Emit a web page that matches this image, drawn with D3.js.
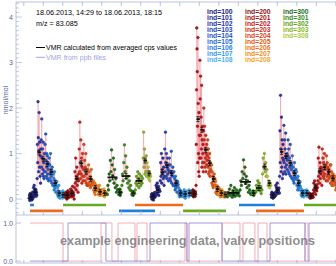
<!DOCTYPE html>
<html>
<head>
<meta charset="utf-8">
<script src="https://cdn.jsdelivr.net/npm/d3@7"></script>
<style>
body { margin: 0; background: #fff; }
svg { display: block; font-family: "Liberation Sans", Arial, sans-serif; }
</style>
</head>
<body>
<div id="chart"></div>
<script>
// time in minutes after 14:24
var segStart = [10.0, 37.7, 70.0, 103.8, 135.4, 162.3, 196.2, 225.4];
var segEnd   = [37.7, 70.0, 103.8, 135.4, 162.3, 196.2, 225.4, 255.4];

var blueInd  = [100, 101, 102, 103, 104, 105, 106, 107, 108];
var redInd   = [200, 201, 202, 203, 204, 205, 206, 207, 208];
var green1Ind = [300, 300, 301, 301, 302, 303, 308];
var green2Ind = [300, 300, 301, 302, 303, 308];
var green1Span = [11, 3, 10, 4, 8, 4, 4];
var green2Span = [13, 12, 4, 7, 5, 4];

var blue1 = [
  [0.02, 0.08, -0.03, 0.12, 0.05, 0.0, 0.1, 0.04, -0.02, 0.06, 0.15, 0.01],
  [0.1, 0.25, 0.05, 0.3, 0.18, 0.08, 0.22, 0.12, 0.2, 0.06, 0.15, 0.09],
  [0.45, 1.2, 0.8, 2.14, 1.35, 0.6, 1.05, 1.9, 0.7, 1.25, 0.5, 0.95, 0.35, 1.1],
  [1.3, 0.7, 1.76, 0.9, 0.55, 1.1, 0.65, 1.25, 0.5, 0.8, 0.45, 1.0, 0.6, 0.85],
  [1.2, 0.6, 1.43, 0.85, 0.5, 1.0, 0.7, 0.45, 0.95, 0.55, 0.8, 0.65, 0.4, 0.75],
  [0.9, 0.45, 0.75, 0.55, 1.0, 0.4, 0.65, 0.5, 0.35, 0.7, 0.6, 0.3],
  [0.55, 0.3, 0.45, 0.2, 0.6, 0.25, 0.35, 0.4, 0.15, 0.3, 0.28, 0.38],
  [0.25, 0.1, 0.18, 0.05, 0.12, 0.3, 0.08, 0.15, 0.02, 0.1, 0.14, 0.06],
  [0.12, 0.05, 0.15, 0.08, 0.02, 0.18, 0.1, 0.06, 0.13, 0.09, 0.04, 0.11]
];
var red1 = [
  [0.1, 0.04, 0.15, 0.08, 0.0, 0.12, 0.06, 0.18, 0.09, 0.03, 0.11, 0.07],
  [0.15, 0.08, 0.22, 0.1, 0.05, 0.18, 0.12, 0.28, 0.06, 0.14, 0.09, 0.0],
  [0.25, 0.6, 0.35, 0.9, 0.2, 0.5, 0.7, 0.3, 0.45, 0.15, 0.55, 0.4],
  [1.1, 0.6, 1.69, 0.8, 0.45, 1.3, 0.55, 0.9, 0.35, 0.7, 1.0, 0.5, 0.4, 0.65],
  [1.2, 0.5, 0.85, 0.4, 0.7, 1.0, 0.35, 0.55, 0.3, 0.65, 0.45, 0.3],
  [0.75, 0.35, 0.6, 0.3, 0.5, 0.25, 0.45, 0.65, 0.3, 0.4, 0.35, 0.38],
  [0.4, 0.2, 0.3, 0.15, 0.35, 0.1, 0.25, 0.2, 0.3, 0.18, 0.22, 0.23],
  [0.25, 0.1, 0.2, 0.12, 0.3, 0.08, 0.15, 0.18, 0.1, 0.14, 0.2, 0.1],
  [0.2, 0.08, 0.15, 0.1, 0.22, 0.05, 0.12, 0.16, 0.1, 0.14, 0.12, 0.12]
];
var green1 = [
  [0.1, 0.3, 0.2, 0.55, 0.4, 0.85, 0.6, 1.08, 0.75, 0.5, 0.9, 0.35, 0.65, 0.25, 0.45, 0.15, 0.3, 0.2],
  [0.2, 0.1, 0.15, 0.22, 0.08, 0.14],
  [0.15, 0.3, 0.55, 0.4, 0.8, 1.19, 0.6, 0.95, 0.45, 0.7, 0.35, 0.5, 0.25, 0.4, 0.2, 0.3],
  [0.18, 0.1, 0.12, 0.08, 0.15, 0.14, 0.12],
  [0.2, 0.35, 0.5, 0.3, 0.6, 0.45, 0.25, 0.55, 0.4, 0.3, 0.5, 0.35, 0.45],
  [0.9, 1.47, 0.7, 1.1, 0.55, 0.85, 0.6, 0.95, 0.5],
  [0.8, 0.5, 0.7, 0.45, 0.6, 0.4, 0.55, 0.5]
];
var blue2 = [
  [0.05, 0.1, 0.0, 0.12, 0.03, 0.08, -0.02, 0.09, 0.06, 0.14, 0.04, 0.07],
  [0.15, 0.3, 0.1, 0.25, 0.35, 0.12, 0.2, 0.28, 0.08, 0.22, 0.18, 0.17],
  [0.4, 0.8, 0.5, 1.0, 0.35, 0.65, 0.55, 0.9, 0.45, 0.7, 0.3, 0.5],
  [1.1, 0.6, 1.47, 0.8, 0.5, 1.0, 0.45, 0.7, 0.9, 0.55, 0.65, 0.4, 0.75, 0.6],
  [0.9, 0.45, 0.75, 0.4, 0.6, 1.05, 0.35, 0.55, 0.5, 0.7, 0.3, 0.3],
  [0.6, 0.3, 0.45, 0.2, 0.5, 0.25, 0.35, 0.4, 0.15, 0.3, 0.38, 0.32],
  [0.25, 0.1, 0.18, 0.05, 0.2, 0.08, 0.12, 0.15, 0.06, 0.1, 0.14, 0.13],
  [0.15, 0.05, 0.12, 0.2, 0.08, 0.1, 0.02, 0.14, 0.09, 0.16, 0.11, 0.1],
  [0.18, 0.1, 0.12, 0.05, 0.2, 0.14, 0.08, 0.16, 0.12, 0.11, 0.15, 0.15]
];
var red2 = [
  [0.15, 0.08, 0.2, 0.1, 0.05, 0.18, 0.12, 0.09, 0.14, 0.06, 0.16, 0.11],
  [0.3, 1.2, 2.4, 3.76, 3.3, 2.8, 1.6, 0.8, 3.55, 2.1, 1.0, 0.6, 1.9, 0.5, 1.4, 0.9],
  [3.05, 2.2, 1.4, 2.7, 0.9, 1.8, 1.1, 2.5, 0.7, 1.3, 1.6, 0.8, 1.0, 1.2, 0.6, 1.5],
  [2.0, 1.3, 0.8, 1.6, 0.7, 1.1, 0.9, 1.4, 0.6, 1.0, 1.2, 0.75, 0.85, 0.95],
  [1.3, 0.7, 1.1, 0.55, 0.9, 0.6, 1.0, 0.5, 0.8, 0.65, 0.75, 0.6],
  [0.75, 0.35, 0.6, 0.3, 0.5, 0.25, 0.45, 0.4, 0.55, 0.3, 0.45, 0.38],
  [0.4, 0.15, 0.3, 0.12, 0.25, 0.2, 0.1, 0.28, 0.18, 0.22, 0.2, 0.24],
  [0.22, 0.08, 0.15, 0.05, 0.18, 0.1, 0.14, 0.2, 0.06, 0.12, 0.16, 0.1],
  [0.14, 0.06, 0.1, 0.15, 0.04, 0.12, 0.08, 0.11, 0.09, 0.13, 0.07, 0.11]
];
var green2 = [
  [0.05, 0.15, 0.1, 0.22, 0.08, 0.3, 0.12, 0.04, 0.18, 0.1, 0.25, 0.06, 0.14, 0.2, 0.09, 0.12, 0.16, 0.07],
  [0.2, 0.4, 0.3, 0.6, 0.45, 0.86, 0.55, 0.7, 0.35, 0.5, 0.25, 0.4, 0.15, 0.3, 0.2, 0.12, 0.1],
  [0.15, 0.1, 0.18, 0.08, 0.12, 0.16],
  [0.15, 0.3, 0.2, 0.4, 0.25, 0.35, 0.18, 0.28, 0.12, 0.2],
  [0.55, 0.9, 0.7, 1.0, 0.6, 0.8, 0.5, 0.65],
  [0.5, 0.3, 0.4, 0.25, 0.35, 0.3]
];
var blue3 = [
  [0.1, 0.04, 0.15, 0.06, 0.12, 0.02, 0.09, 0.08, 0.11, 0.05, 0.07, 0.07],
  [0.15, 0.3, 0.1, 0.25, 0.18, 0.35, 0.12, 0.22, 0.2, 0.16, 0.24, 0.13],
  [0.5, 1.5, 0.8, 2.28, 1.1, 0.6, 1.8, 0.7, 1.3, 0.45, 0.9, 1.2, 0.55, 0.85],
  [1.62, 0.8, 1.3, 0.6, 1.1, 0.7, 1.45, 0.55, 0.9, 0.75, 1.0, 0.65, 0.85, 0.95],
  [1.3, 0.6, 1.1, 0.55, 0.9, 0.7, 1.2, 0.5, 0.8, 0.65, 0.75, 0.45],
  [0.95, 0.45, 0.7, 0.4, 0.6, 0.35, 0.8, 0.5, 0.55, 0.45, 0.65, 0.44],
  [0.6, 0.3, 0.45, 0.2, 0.5, 0.25, 0.35, 0.4, 0.2, 0.3, 0.38, 0.27],
  [0.22, 0.1, 0.16, 0.06, 0.2, 0.08, 0.14, 0.12, 0.05, 0.15, 0.18, 0.1],
  [0.15, 0.08, 0.18, 0.1, 0.12, 0.2, 0.06, 0.14, 0.11, 0.16, 0.13, 0.13]
];
var red3 = [
  [0.1, 0.04, 0.12, 0.02, 0.08, 0.06, 0.1, 0.03, 0.09, 0.05, 0.11, 0.04],
  [0.2, 0.35, 0.15, 0.4, 0.25, 0.3, 0.1, 0.28, 0.22, 0.18, 0.32, 0.25],
  [0.4, 0.9, 0.5, 1.14, 0.6, 0.35, 0.8, 0.45, 0.7, 0.55, 0.65, 0.3],
  [1.1, 0.6, 0.9, 0.5, 0.8, 0.45, 1.0, 0.55, 0.7, 0.65, 0.75, 0.4],
  [0.95, 0.5, 0.8, 0.4, 0.7, 0.55, 0.65, 0.45, 0.6, 0.5, 0.75, 0.35],
  [0.75, 0.35, 0.6, 0.3, 0.5, 0.4, 0.55, 0.3, 0.45, 0.4, 0.5, 0.35],
  [0.5, 0.2, 0.4, 0.25, 0.35, 0.2, 0.3, 0.28, 0.22, 0.32],
  [0.3, 0.15, 0.25, 0.12, 0.2, 0.18, 0.22, 0.15],
  [0.2, 0.1, 0.18, 0.12, 0.15, 0.14]
];

var segVals = [blue1, red1, green1, blue2, red2, green2, blue3, red3];
var segInd  = [blueInd, redInd, green1Ind, blueInd, redInd, green2Ind, blueInd, redInd];
var segSpan = [null, null, green1Span, null, null, green2Span, null, null];

// periods shown as bars under the curve
var barStart = [10.8, 10.8, 36.2, 79.2, 91.5, 128.5, 171.5, 184.6, 221.5];
var barEnd   = [13.8, 36.2, 69.2, 106.9, 128.5, 161.5, 199.2, 221.5, 255.0];
var barRow   = [0, 1, 0, 1, 0, 1, 0, 1, 0];
var barKind  = ["blue", "orange", "green", "blue", "orange", "green", "blue", "orange", "green"];

// valve states, step changes [minute, state]
var valveA = [[10.8,0],[40.0,1],[69.2,0],[103.1,1],[131.5,0],[133.1,1],[158.5,0],[195.4,1],[222.3,0],[225.4,1],[255,1]];
var valveB = [[10.8,1],[36.2,0],[65.4,1],[73.8,0],[78.5,1],[91.5,0],[93.1,1],[100.8,0],[130,1],[131.5,0],[158.5,1],[172.3,0],[174.6,1],[183.8,0],[186.2,1],[193.1,0],[222.3,1],[224.6,0],[255,0]];

var yTicks = [0, 1, 2, 3, 4];
var vTicks = [0, 1];
var legendCols = [blueInd, redInd, [300, 301, 302, 303, 308]];

var indColor = {
  100: "#20207a", 101: "#262c8e", 102: "#2636a2", 103: "#2446b2", 104: "#1f58c2",
  105: "#1e6cd0", 106: "#2884de", 107: "#389aea", 108: "#4eb0f6",
  200: "#8a1010", 201: "#a81616", 202: "#c01c1c", 203: "#cc2e18", 204: "#d84418",
  205: "#e25c18", 206: "#ec7418", 207: "#f48a1e", 208: "#fba232",
  300: "#1b6e1b", 301: "#3a8a1e", 302: "#5ea320", 303: "#88b924", 308: "#a9cd40"
};
var barColor = { blue: "#1f80dc", green: "#6aaa22", orange: "#ef6a1a" };

var W = 336, H = 266;
var svg = d3.select("#chart").append("svg").attr("width", W).attr("height", H);

var x = d3.scaleLinear().domain([0, 250]).range([16, 341]);
var y = d3.scaleLinear().domain([-0.35, 4.33]).range([215, 2]);
var yv = d3.scaleLinear().domain([-0.05, 1.21]).range([263, 215]);

var axisCol = "#aab3d2", labCol = "#5464a4";

svg.append("clipPath").attr("id", "clipMain")
  .append("rect").attr("x", 16).attr("y", 2).attr("width", 330).attr("height", 213);
svg.append("clipPath").attr("id", "clipLow")
  .append("rect").attr("x", 16).attr("y", 215).attr("width", 330).attr("height", 48);

// build points
var points = [], groups = [];
segVals.forEach(function(seg, s) {
  var span = segSpan[s] || seg.map(function() { return 1; });
  var tot = d3.sum(span), t0 = segStart[s], len = segEnd[s] - segStart[s];
  seg.forEach(function(vals, g) {
    var g0 = t0, g1 = t0 + len * span[g] / tot;
    var dt = (g1 - g0) / vals.length;
    var ind = segInd[s][g];
    vals.forEach(function(v, k) {
      points.push({ t: g0 + (k + 0.5) * dt, v: v, ind: ind });
    });
    groups.push({ t0: g0, t1: g1, mean: d3.mean(vals), ind: ind });
    t0 = g1;
  });
});

var main = svg.append("g").attr("clip-path", "url(#clipMain)");

// bars under the curve
var rowVal = [-0.13, -0.26];
main.selectAll("line.bar")
  .data(barStart.map(function(s, i) { return { s: s, e: barEnd[i], r: barRow[i], c: barKind[i] }; }))
  .enter().append("line")
    .attr("class", "bar")
    .attr("x1", function(d) { return x(d.s); })
    .attr("x2", function(d) { return x(d.e); })
    .attr("y1", function(d) { return y(rowVal[d.r]); })
    .attr("y2", function(d) { return y(rowVal[d.r]); })
    .attr("stroke", function(d) { return barColor[d.c]; })
    .attr("stroke-width", 2.6);

// connecting line
main.append("path")
  .datum(points)
  .attr("fill", "none")
  .attr("stroke", "#ee7c86")
  .attr("stroke-opacity", 0.6)
  .attr("stroke-width", 0.7)
  .attr("d", d3.line().x(function(d) { return x(d.t); }).y(function(d) { return y(d.v); }));

main.selectAll("circle.pt")
  .data(points)
  .enter().append("circle")
    .attr("class", "pt")
    .attr("cx", function(d) { return x(d.t); })
    .attr("cy", function(d) { return y(d.v); })
    .attr("r", 1.35)
    .attr("fill", function(d) { return indColor[d.ind]; })
    .attr("stroke", function(d) { return d3.color(indColor[d.ind]).darker(0.5); })
    .attr("stroke-width", 0.5);

// averaged values
var avg = main.selectAll("g.avg")
  .data(groups)
  .enter().append("g").attr("class", "avg");
avg.append("line")
  .attr("x1", function(d) { return x(d.t0) + 0.5; })
  .attr("x2", function(d) { return Math.max(x(d.t1) - 0.5, x(d.t0) + 4); })
  .attr("y1", function(d) { return y(d.mean); })
  .attr("y2", function(d) { return y(d.mean); })
  .attr("stroke", "#111").attr("stroke-width", 1.8);
avg.append("path")
  .attr("d", function(d) {
    var cx = (x(d.t0) + Math.max(x(d.t1), x(d.t0) + 4)) / 2, cy = y(d.mean);
    return "M" + (cx - 1.5) + "," + (cy - 2.5) + "h3M" + cx + "," + (cy - 2.5) + "v5M" + (cx - 1.5) + "," + (cy + 2.5) + "h3";
  })
  .attr("stroke", "#111").attr("stroke-width", 0.8).attr("fill", "none");

// axes
var xTicks = d3.range(6, 250, 15);
function xAxisLine(yPos, dir, len) {
  svg.append("line").attr("x1", 16).attr("x2", 336).attr("y1", yPos).attr("y2", yPos)
    .attr("stroke", axisCol).attr("stroke-width", 0.8);
  svg.selectAll(null).data(xTicks).enter().append("line")
    .attr("x1", function(d) { return x(d); }).attr("x2", function(d) { return x(d); })
    .attr("y1", yPos).attr("y2", yPos + dir * len)
    .attr("stroke", axisCol).attr("stroke-width", 0.8);
}
xAxisLine(2, 1, 4);
xAxisLine(215, -1, 4);
xAxisLine(263, -1, 3);

svg.append("line").attr("x1", 16).attr("x2", 16).attr("y1", 2).attr("y2", 263)
  .attr("stroke", axisCol).attr("stroke-width", 0.8);

var minor = d3.range(-3, 44).map(function(i) { return i / 10; });
svg.selectAll(null).data(minor).enter().append("line")
  .attr("x1", 16).attr("x2", function(d) { return Math.abs(d - Math.round(d)) < 1e-6 ? 22 : 19; })
  .attr("y1", function(d) { return y(d); }).attr("y2", function(d) { return y(d); })
  .attr("stroke", axisCol).attr("stroke-width", 0.7);
svg.selectAll(null).data(yTicks).enter().append("text")
  .attr("x", 13).attr("y", function(d) { return y(d) + 2.5; })
  .attr("text-anchor", "end").attr("font-size", 7).attr("fill", labCol)
  .text(function(d) { return d; });

svg.append("text")
  .attr("transform", "translate(8,100) rotate(-90)")
  .attr("text-anchor", "middle").attr("font-size", 7).attr("fill", labCol)
  .text("nmol/mol");

// texts in main panel
svg.append("text").attr("x", 36).attr("y", 15).attr("font-size", 7.2)
  .attr("textLength", 126).attr("lengthAdjust", "spacingAndGlyphs")
  .text("18.06.2013, 14:29 to 18.06.2013, 18:15");
svg.append("text").attr("x", 36).attr("y", 26).attr("font-size", 7.2)
  .text("m/z = 83.085");
svg.append("line").attr("x1", 36).attr("x2", 45).attr("y1", 47.5).attr("y2", 47.5)
  .attr("stroke", "#000").attr("stroke-width", 1);
svg.append("text").attr("x", 46).attr("y", 50).attr("font-size", 7)
  .attr("textLength", 131).attr("lengthAdjust", "spacingAndGlyphs")
  .text("VMR calculated from averaged cps values");
svg.append("line").attr("x1", 36).attr("x2", 45).attr("y1", 57.3).attr("y2", 57.3)
  .attr("stroke", "#a4a2e6").attr("stroke-width", 1);
svg.append("text").attr("x", 46).attr("y", 60).attr("font-size", 7).attr("fill", "#a4a2e6")
  .attr("textLength", 60).attr("lengthAdjust", "spacingAndGlyphs")
  .text("VMR from ppb files");

// ind legend
var colX = [207, 245, 283];
legendCols.forEach(function(col, c) {
  svg.selectAll(null).data(col).enter().append("text")
    .attr("x", colX[c]).attr("y", function(d, i) { return 13.5 + i * 6.1; })
    .attr("font-size", 6.8).attr("font-weight", "bold")
    .attr("fill", function(d) { return indColor[d]; })
    .text(function(d) { return "ind=" + d; });
});

// lower panel: valve positions
var low = svg.append("g").attr("clip-path", "url(#clipLow)");
var stepLine = d3.line().curve(d3.curveStepAfter)
  .x(function(d) { return x(d[0]); }).y(function(d) { return yv(d[1]); });
low.append("path").datum(valveB).attr("d", stepLine)
  .attr("fill", "none").attr("stroke", "#f2a2b2").attr("stroke-width", 0.9);
low.append("path").datum(valveA).attr("d", stepLine)
  .attr("fill", "none").attr("stroke", "#9a8ad0").attr("stroke-width", 0.9);

svg.selectAll(null).data(vTicks).enter().append("line")
  .attr("x1", 16).attr("x2", 21)
  .attr("y1", function(d) { return yv(d); }).attr("y2", function(d) { return yv(d); })
  .attr("stroke", axisCol).attr("stroke-width", 0.8);
svg.selectAll(null).data(vTicks).enter().append("text")
  .attr("x", 13).attr("y", function(d) { return yv(d) + 2.5; })
  .attr("text-anchor", "end").attr("font-size", 7).attr("fill", labCol)
  .text(function(d) { return d3.format(".1f")(d); });

svg.append("text").attr("x", 60).attr("y", 245)
  .attr("font-size", 13.5).attr("font-weight", "bold").attr("fill", "#7a7a7a")
  .attr("fill-opacity", 0.85)
  .attr("textLength", 255).attr("lengthAdjust", "spacingAndGlyphs")
  .text("example engineering data, valve positions");
</script>
</body>
</html>
